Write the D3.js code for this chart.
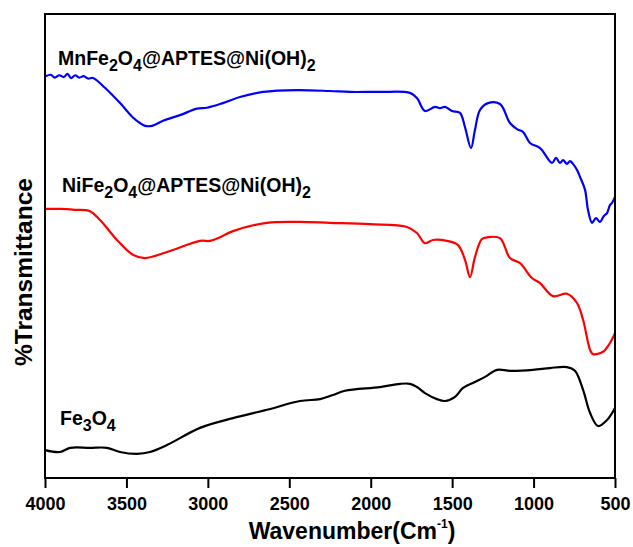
<!DOCTYPE html>
<html>
<head>
<meta charset="utf-8">
<script src="https://cdn.jsdelivr.net/npm/d3@7/dist/d3.min.js"></script>
<style>
  html, body { margin: 0; padding: 0; background: #fff; }
  svg { display: block; }
</style>
</head>
<body>
<div id="chart"></div>
<script>
  // FTIR spectra, wavenumber (cm-1) vs %T (arbitrary offset units 0-100)
  const mnSpectrum = [
    [3995, 86.6], [3965, 86.9], [3940, 86.3], [3912, 86.8], [3885, 86.4], [3862, 87.1],
    [3840, 86.2], [3815, 86.8], [3790, 86.3], [3762, 86.6], [3735, 86.1], [3705, 86.2],
    [3632, 84.1], [3539, 80.8], [3460, 77.7], [3417, 76.5], [3386, 75.9], [3343, 75.9],
    [3275, 77.0], [3171, 78.2], [3067, 79.6], [3005, 79.8], [2907, 80.8], [2803, 82.1],
    [2661, 83.2], [2453, 83.6], [2250, 83.4], [2127, 83.2], [1943, 83.2], [1759, 83.0],
    [1716, 81.9], [1667, 79.1], [1605, 80.0], [1575, 79.7], [1544, 80.0], [1501, 79.1],
    [1452, 78.7], [1421, 75.6], [1384, 71.1], [1360, 75.0], [1329, 79.3], [1280, 80.8],
    [1206, 80.6], [1145, 76.5], [1102, 75.2], [1065, 74.6], [1022, 72.2], [960, 71.1],
    [887, 67.9], [862, 69.0], [838, 67.9], [819, 68.5], [795, 67.7], [776, 68.3],
    [758, 67.7], [733, 66.4], [715, 64.9], [684, 62.1], [666, 57.8], [641, 55.0],
    [617, 56.0], [592, 55.2], [568, 56.5], [549, 57.1], [531, 58.8], [518, 59.3], [500, 60.6]
  ];
  const niSpectrum = [
    [4000, 58.0], [3908, 58.0], [3816, 57.8], [3724, 57.5], [3662, 55.6], [3558, 51.3],
    [3460, 48.1], [3386, 47.4], [3251, 48.7], [3048, 51.1], [2987, 51.1], [2925, 51.9],
    [2846, 53.2], [2637, 55.0], [2434, 55.2], [2250, 55.0], [2004, 54.7], [1777, 54.1],
    [1716, 52.8], [1667, 50.6], [1618, 51.3], [1532, 51.1], [1464, 50.2], [1421, 47.0],
    [1390, 43.3], [1360, 47.6], [1317, 51.5], [1280, 51.9], [1206, 51.7], [1145, 47.4],
    [1083, 46.3], [1010, 43.1], [960, 42.0], [881, 39.2], [795, 39.7], [733, 37.7],
    [696, 34.1], [653, 27.6], [635, 26.7], [574, 27.2], [531, 29.1], [500, 31.2]
  ];
  const feSpectrum = [
    [4000, 6.0], [3908, 5.6], [3846, 6.5], [3724, 6.5], [3619, 6.5], [3539, 5.6],
    [3435, 5.2], [3355, 5.6], [3251, 7.1], [3048, 10.8], [2846, 12.9], [2637, 14.7],
    [2434, 16.6], [2311, 17.0], [2232, 17.9], [2158, 18.8], [1943, 19.6], [1820, 20.3],
    [1759, 20.3], [1716, 19.6], [1667, 18.3], [1593, 17.0], [1544, 16.6], [1482, 17.5],
    [1433, 19.4], [1360, 20.7], [1298, 21.8], [1224, 23.3], [1145, 23.1], [1004, 23.3],
    [899, 23.7], [795, 23.9], [746, 23.1], [696, 19.0], [653, 14.0], [604, 11.2],
    [549, 12.5], [500, 15.1]
  ];
  const seriesColors = ["#0000ff", "#ff0000", "#000000"];
  const xTicks = [4000, 3500, 3000, 2500, 2000, 1500, 1000, 500];

  const W = 633, H = 547;
  const margin = { top: 14, right: 18, bottom: 69, left: 45 };
  const FONT = "'Liberation Sans', Arial, sans-serif";

  const svg = d3.select("#chart").append("svg").attr("width", W).attr("height", H);

  const x = d3.scaleLinear().domain([4000, 500]).range([margin.left, W - margin.right]);
  const y = d3.scaleLinear().domain([0, 100]).range([H - margin.bottom, margin.top]);

  const path = d3.line().x(d => x(d[0])).y(d => y(d[1])).curve(d3.curveCatmullRom.alpha(0.5));

  [mnSpectrum, niSpectrum, feSpectrum].forEach((s, i) => {
    svg.append("path").datum(s)
      .attr("d", path)
      .attr("fill", "none")
      .attr("stroke", seriesColors[i])
      .attr("stroke-width", 2.2)
      .attr("stroke-linejoin", "round");
  });

  // frame
  svg.append("rect")
    .attr("x", margin.left).attr("y", margin.top)
    .attr("width", W - margin.left - margin.right)
    .attr("height", H - margin.top - margin.bottom)
    .attr("fill", "none").attr("stroke", "#000").attr("stroke-width", 2);

  // x axis
  const xAxis = svg.append("g")
    .attr("transform", `translate(0,${H - margin.bottom})`)
    .call(d3.axisBottom(x).tickValues(xTicks).tickSize(10).tickPadding(9).tickFormat(d3.format("d")));
  xAxis.select(".domain").remove();
  xAxis.selectAll(".tick line").attr("stroke", "#000").attr("stroke-width", 2);
  xAxis.selectAll(".tick text")
    .attr("font-family", FONT).attr("font-weight", "bold").attr("font-size", 18).attr("fill", "#000");

  // axis titles
  const xt = svg.append("text")
    .attr("x", 352).attr("y", 539)
    .attr("text-anchor", "middle")
    .attr("font-family", FONT).attr("font-weight", "bold").attr("font-size", 23);
  xt.append("tspan").text("Wavenumber(Cm");
  xt.append("tspan").attr("font-size", 12).attr("dy", -11).text("-1");
  xt.append("tspan").attr("dy", 11).text(")");

  svg.append("text")
    .attr("transform", `translate(32,272) rotate(-90)`)
    .attr("text-anchor", "middle")
    .attr("font-family", FONT).attr("font-weight", "bold").attr("font-size", 24.5)
    .text("%Transmittance");

  // series labels with subscripts
  function label(xp, yp, parts) {
    const t = svg.append("text").attr("x", xp).attr("y", yp)
      .attr("font-family", FONT).attr("font-weight", "bold").attr("font-size", 19.5);
    let down = false;
    parts.forEach(p => {
      const sub = typeof p === "number";
      const dy = sub ? (down ? 0 : 6) : (down ? -6 : 0);
      t.append("tspan").attr("dy", dy).attr("font-size", sub ? 16 : 19.5).text(String(p));
      down = sub;
    });
  }
  label(58, 65, ["MnFe", 2, "O", 4, "@APTES@Ni(OH)", 2]);
  label(62, 192, ["NiFe", 2, "O", 4, "@APTES@Ni(OH)", 2]);
  label(60, 425, ["Fe", 3, "O", 4]);
</script>
</body>
</html>
